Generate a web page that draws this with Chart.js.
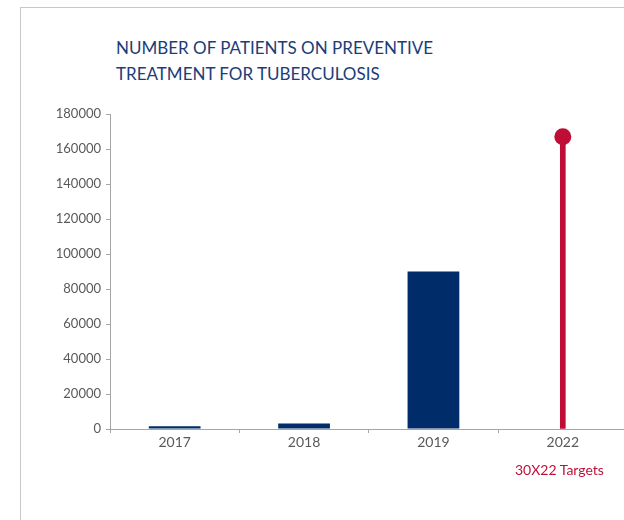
<!DOCTYPE html>
<html>
<head>
<meta charset="utf-8">
<script src="https://cdn.jsdelivr.net/npm/chart.js@4/dist/chart.umd.min.js"></script>
<style>
  html, body { margin: 0; padding: 0; background: #fff; }
  body { width: 624px; height: 520px; position: relative; overflow: hidden; font-family: Lato, "Open Sans", sans-serif; }
  #card { position: absolute; left: 20px; top: 7px; width: 700px; height: 600px; border-left: 1px solid #c8c8c8; border-top: 1px solid #c8c8c8; }
  #title { position: absolute; left: 116px; top: 35px; font-size: 17px; line-height: 26px; color: #1c3d78; }
  #note { position: absolute; left: 515px; top: 461px; font-size: 14px; color: #c0103a; }
  #wrap { position: absolute; left: 0; top: 0; width: 636px; height: 520px; }
</style>
</head>
<body>
<div id="card"></div>
<div id="title">NUMBER OF PATIENTS ON PREVENTIVE<br>TREATMENT FOR TUBERCULOSIS</div>
<div id="wrap"><canvas id="c" width="636" height="520"></canvas></div>
<div id="note">30X22 Targets</div>
<script>
const categories = ["2017", "2018", "2019", "2022"];
const patients = [1600, 3100, 90000, null];
const targets = [null, null, null, 167000];
const yTicks = [0, 20000, 40000, 60000, 80000, 100000, 120000, 140000, 160000, 180000];

new Chart(document.getElementById('c'), {
  type: 'bar',
  data: {
    labels: categories,
    datasets: [
      {
        type: 'line',
        label: 'Target marker',
        data: targets,
        showLine: false,
        pointRadius: 8.5,
        pointHoverRadius: 8.5,
        pointBackgroundColor: '#c00d36',
        pointBorderWidth: 0,
        order: 0
      },
      {
        label: 'Patients',
        data: patients,
        backgroundColor: '#002d6a',
        barPercentage: 0.5,
        categoryPercentage: 0.8,
        order: 2
      },
      {
        label: 'Targets',
        data: targets,
        backgroundColor: '#c00d36',
        barThickness: 5,
        order: 1
      }
    ]
  },
  options: {
    responsive: false,
    animation: false,
    layout: { padding: { top: 114, left: 0, right: 0, bottom: 60 } },
    plugins: { legend: { display: false }, tooltip: { enabled: false }, title: { display: false } },
    datasets: { bar: { grouped: false } },
    scales: {
      x: {
        grid: { display: true, drawOnChartArea: false, drawTicks: true, tickLength: 4, color: '#a6a6a6', offset: true },
        border: { color: '#a6a6a6', width: 1 },
        ticks: { color: '#595959', font: { family: 'Lato', size: 14 }, padding: 1 },
        afterFit(s) { s.height = 31; s.paddingRight = 0; }
      },
      y: {
        min: 0, max: 180000,
        afterBuildTicks(s) { s.ticks = yTicks.map(v => ({ value: v })); },
        grid: { display: true, drawOnChartArea: false, drawTicks: true, tickLength: 4, color: '#a6a6a6' },
        border: { color: '#a6a6a6', width: 1 },
        ticks: { color: '#595959', font: { family: 'Lato', size: 13 }, padding: 5, callback: v => String(v) },
        afterFit(s) { s.width = 110; }
      }
    }
  }
});
</script>
</body>
</html>
